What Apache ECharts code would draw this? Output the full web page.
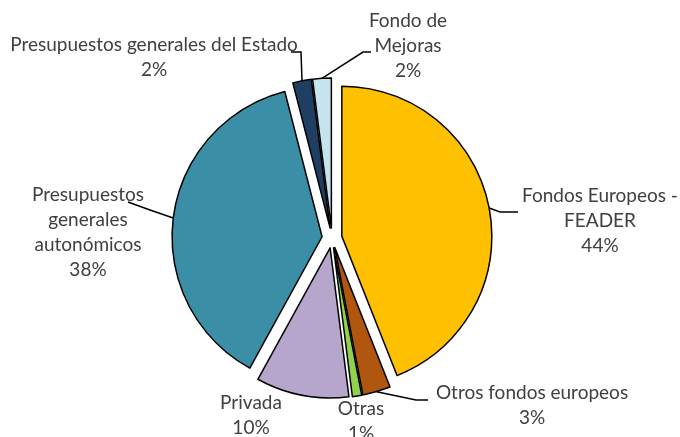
<!DOCTYPE html>
<html>
<head>
<meta charset="utf-8">
<script src="https://cdn.jsdelivr.net/npm/echarts@6/dist/echarts.min.js"></script>
<style>
  html, body { margin: 0; padding: 0; background: #fff; }
  #chart { width: 680px; height: 437px; }
</style>
</head>
<body>
<div id="chart"></div>
<script>
const categories = [
    'Fondos Europeos -\nFEADER',
    'Otros fondos europeos',
    'Otras',
    'Privada',
    'Presupuestos\ngenerales\nautonómicos',
    'Presupuestos generales del Estado',
    'Fondo de\nMejoras'
];
const shares = [44, 3, 1, 10, 38, 2, 2];
const colors = ['#FFC000', '#B0560F', '#92D050', '#B7A6CC', '#3A8EA5', '#1F3F62', '#C6E4EE'];

// where each label block sits (centre) and the bend / end of its leader line
const labelSpots = [
    { x: 600, y: 221, line: [[500, 212], [518, 212]] },
    { x: 532, y: 405, line: [[416, 400], [428, 400]] },
    { x: 361, y: 421, line: null },
    { x: 251, y: 415, line: null },
    { x: 88, y: 232, line: [[150, 210], [128, 202]] },
    { x: 154, y: 57, line: [[301, 52], [291, 52]] },
    { x: 408, y: 46, line: [[363, 52], [371, 52]] }
];

const pieCenter = [332, 238];
const pieRadius = 150;
const explode = 10;

const chart = echarts.init(document.getElementById('chart'));

chart.setOption({
    animation: false,
    series: [{
        // exploded slices
        type: 'pie',
        center: pieCenter,
        radius: pieRadius,
        startAngle: 90,
        clockwise: true,
        selectedMode: 'multiple',
        selectedOffset: explode,
        silent: true,
        itemStyle: { borderColor: '#000', borderWidth: 1.5 },
        label: { show: false },
        labelLine: { show: false },
        data: categories.map((name, i) => ({
            name: name,
            value: shares[i],
            selected: true,
            itemStyle: { color: colors[i] }
        }))
    }, {
        // same shares, invisible, reaching the outer edge of the exploded slices: carries the labels
        type: 'pie',
        center: pieCenter,
        radius: pieRadius + explode,
        startAngle: 90,
        clockwise: true,
        silent: true,
        avoidLabelOverlap: false,
        itemStyle: { color: 'rgba(0,0,0,0)', borderWidth: 0 },
        label: {
            show: true,
            formatter: '{b}\n{d}%',
            fontFamily: 'Lato',
            fontSize: 19,
            color: '#404040',
            lineHeight: 25
        },
        labelLine: { show: true, lineStyle: { color: '#000', width: 1.5 } },
        labelLayout: function (params) {
            const spot = labelSpots[params.dataIndex];
            const out = { x: spot.x, y: spot.y, align: 'center', verticalAlign: 'middle' };
            if (spot.line && params.labelLinePoints) {
                out.labelLinePoints = [params.labelLinePoints[0]].concat(spot.line);
            }
            return out;
        },
        data: categories.map((name, i) => ({
            name: name,
            value: shares[i],
            labelLine: { show: !!labelSpots[i].line }
        }))
    }]
});
</script>
</body>
</html>
